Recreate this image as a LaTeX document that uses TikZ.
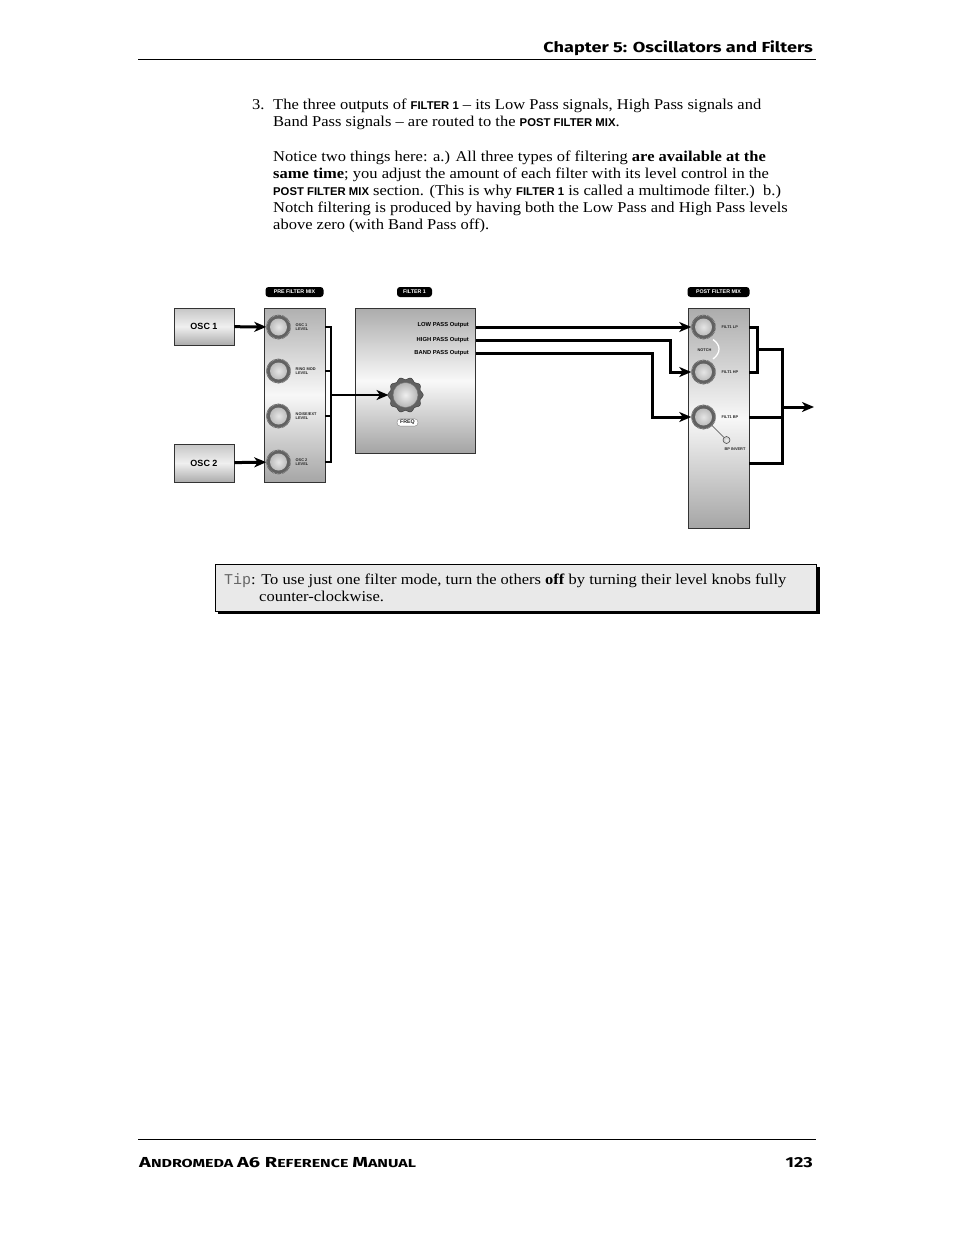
\documentclass[tikz,border=0pt]{standalone}
\usepackage{fontspec}
\setmainfont{Liberation Serif}[FakeStretch=1.1]
\newfontfamily\arialf{Liberation Sans}
\newfontfamily\headf{Fira Sans}[FakeStretch=1.25]
\newfontfamily\footf{Fira Sans}[FakeStretch=1.38]
\newfontfamily\monof{Liberation Mono}
\usetikzlibrary{arrows.meta,calc}
\newcommand\sfcap[1]{{\arialf\bfseries\fontsize{11.3}{11}\selectfont #1}}
\newcommand\bodyf{\fontsize{15}{17}\selectfont}
\newcommand\tagf{\arialf\bfseries\fontsize{5.3}{6}\selectfont}
\newcommand\tinyf{\arialf\bfseries\fontsize{3.9}{4.3}\selectfont}
\newcommand\outf{\arialf\bfseries\fontsize{5.8}{6.5}\selectfont}
\newcommand\oscf{\arialf\bfseries\fontsize{9}{10}\selectfont}
\newcommand\bigc{\fontsize{14.5}{16}\selectfont}
\newcommand\smlc{\fontsize{11.6}{13}\selectfont}
\begin{document}
\begin{tikzpicture}[x=1pt,y=-1pt,
  panel/.style={draw=black!80, line width=0.7pt, inner sep=0pt},
  tag/.style={fill=black, rounded corners=3pt, text=white, font=\tagf, inner xsep=3pt, inner ysep=0pt, minimum height=10pt},
  knob/.style={circle, minimum size=24pt, inner sep=0pt, fill=black!62, draw=black!85, line width=0.5pt,
    path picture={\shade[inner color=gray!20, outer color=gray!65] (path picture bounding box.center) circle (8.5pt);},
    postaction={draw=black!35, line width=1.1pt, dash pattern=on 0.7pt off 0.7pt}},
  klabel/.style={font=\tinyf, align=left, anchor=west, inner sep=0pt, text=black!85},
  wire/.style={line width=3pt, black},
  bwire/.style={line width=2.3pt, black},
  arr/.style={-{Stealth[length=12pt,width=10pt,inset=3.5pt]}},
  hdr/.style={inner sep=0pt}
]
\useasboundingbox (0,0) rectangle (954,1235);
\fill[white] (0,0) rectangle (954,1235);

% header and footer
\node[hdr, anchor=base east, font=\headf\bfseries\fontsize{14.5}{16}\selectfont] (head) at (813,52) {Chapter 5: Oscillators and Filters};
\draw[line width=0.8pt] (138,59.5) -- (816,59.5);
\draw[line width=0.8pt] (138,1139.5) -- (816,1139.5);
\node[hdr, anchor=base west, font=\footf\bfseries] (foot) at (139,1167) {\bigc A\smlc NDROMEDA \bigc A6 R\smlc EFERENCE \bigc M\smlc ANUAL};
\node[hdr, anchor=base east, font=\headf\bfseries\fontsize{14.5}{16}\selectfont] (pnum) at (813,1167) {123};

% body text (base anchor = last line)
\node[anchor=base west, inner sep=0pt, font=\bodyf] (num) at (252,109) {3.};
\node[anchor=base west, inner sep=0pt, font=\bodyf, align=left] (p1) at (273,126)
  {The three outputs of \sfcap{FILTER 1} – its Low Pass signals, High Pass signals and\\
   Band Pass signals – are routed to the \sfcap{POST FILTER MIX}.};
\node[anchor=base west, inner sep=0pt, font=\bodyf, align=left] (p2) at (273,229)
  {Notice two things here: a.) All three types of filtering \textbf{are available at the}\\
   \textbf{same time}; you adjust the amount of each filter with its level control in the\\
   \sfcap{POST FILTER MIX} section. (This is why \sfcap{FILTER 1} is called a multimode filter.)\ \ b.)\\
   Notch filtering is produced by having both the Low Pass and High Pass levels\\
   above zero (with Band Pass off).};

% ---------- diagram ----------
% OSC boxes
\node[panel, top color=gray!45, bottom color=gray!65, middle color=gray!12, minimum width=60pt, minimum height=37pt, font=\oscf] (osc1) at (204,326.5) {OSC 1};
\node[panel, top color=gray!45, bottom color=gray!65, middle color=gray!12, minimum width=60pt, minimum height=38pt, font=\oscf] (osc2) at (204,463) {OSC 2};

% PRE FILTER MIX
\node[tag, minimum width=58pt] (tpre) at (294.5,292) {PRE FILTER MIX};
\node[panel, top color=gray!62, bottom color=gray!70, middle color=gray!6, minimum width=61pt, minimum height=174pt] (pre) at (294.5,395) {};
\node[knob] (k1) at (278.5,327) {};
\node[knob] (k2) at (278.5,371) {};
\node[knob] (k3) at (278.5,416) {};
\node[knob] (k4) at (278.5,462) {};
\node[klabel] (l1) at (295.5,327) {OSC 1\\LEVEL};
\node[klabel] (l2) at (295.5,371) {RING MOD\\LEVEL};
\node[klabel] (l3) at (295.5,416) {NOISE/EXT\\LEVEL};
\node[klabel] (l4) at (295.5,462) {OSC 2\\LEVEL};

\draw[wire,arr] (osc1) -- (k1);
\draw[wire,arr] (osc2) -- (k4);

% FILTER 1
\node[tag, minimum width=35pt] (tf1) at (414.5,292) {FILTER 1};
\node[panel, top color=gray!65, bottom color=gray!72, middle color=gray!5, minimum width=120pt, minimum height=145pt] (f1) at (415.5,381) {};
\node[anchor=east, font=\outf, inner sep=0pt] (lpt) at (469,325) {LOW PASS Output};
\node[anchor=east, font=\outf, inner sep=0pt] (hpt) at (469,340) {HIGH PASS Output};
\node[anchor=east, font=\outf, inner sep=0pt] (bpt) at (469,353) {BAND PASS Output};
\fill[black!62, draw=black!80, line width=0.4pt] plot[domain=0:360, samples=241] ({405.5+(16.6+1.1*cos(10*\x))*cos(\x)}, {395+(16.6+1.1*cos(10*\x))*sin(\x)}) -- cycle;
\node[circle, minimum size=25pt, inner sep=0pt, outer sep=4.5pt, inner color=gray!12, outer color=gray!58, draw=black!55, line width=0.4pt] (fq) at (405.5,395) {};
\node[draw=black!50, fill=white, rounded corners=3pt, font=\tagf, text=black!85, inner xsep=3pt, inner ysep=1.2pt] (freq) at (407.5,422.5) {FREQ};

% pre-mix bus to FREQ
\coordinate (bx) at (331,395);
\draw[bwire] (pre.east |- k1) -- (bx |- k1) -- (bx |- k4) -- (pre.east |- k4);
\draw[bwire] (pre.east |- k2) -- (bx |- k2);
\draw[bwire] (pre.east |- k3) -- (bx |- k3);
\draw[bwire,arr] (bx) -- (fq);

% POST FILTER MIX
\node[tag, minimum width=62pt] (tpost) at (718.5,292) {POST FILTER MIX};
\node[panel, top color=gray!65, bottom color=gray!70, middle color=gray!6, minimum width=61pt, minimum height=220pt] (post) at (718.5,418) {};
\node[knob] (pk1) at (703.5,327) {};
\node[knob] (pk2) at (703.5,372) {};
\node[knob] (pk3) at (703.5,417) {};
\node[klabel] (pl1) at (721.5,327) {FILT1 LP};
\node[klabel] (pl2) at (721.5,372) {FILT1 HP};
\node[klabel] (pl3) at (721.5,417) {FILT1 BP};
\node[font=\tinyf, inner sep=0pt, text=black!85] (notch) at (704.5,350) {NOTCH};
\draw[white, line width=1.3pt] (713,339.5) .. controls (721,345) and (721,353) .. (713,359);
\node[circle, minimum size=7pt, inner sep=0pt, draw=black!75, line width=0.5pt, inner color=gray!10, outer color=gray!45] (bpi) at (726.5,440) {};
\draw[black!75, line width=0.6pt] (pk3) -- (bpi);
\node[font=\tinyf, inner sep=0pt, text=black!85] (bpit) at (735,449) {BP INVERT};

% filter outputs to post mix
\coordinate (hpc) at (670,340);
\coordinate (bpc) at (652.5,353);
\draw[wire,arr] (f1.east |- pk1) -- (pk1);
\draw[wire,arr] (f1.east |- hpt) -| (hpc |- pk2) -- (pk2);
\draw[wire,arr] (f1.east |- bpt) -| (bpc |- pk3) -- (pk3);

% post mix output bus
\coordinate (ox1) at (757,349.5);
\coordinate (ox2) at (782.5,349.5);
\coordinate (pbot) at (749,463);
\coordinate (out) at (814,407);
\draw[wire] (post.east |- pk1) -- (ox1 |- pk1) -- (ox1 |- pk2) -- (post.east |- pk2);
\draw[wire] (ox1) -- (ox2) -- (ox2 |- pbot) -- (pbot);
\draw[wire] (post.east |- pk3) -- (ox2 |- pk3);
\draw[wire,arr] (ox2 |- out) -- (out);

% Tip box
\fill[black] (217.5,566.5) rectangle (819.5,614);
\draw[fill=gray!17, line width=0.8pt] (215.5,564.5) rectangle (816.5,611.5);
\node[anchor=base west, inner sep=0pt, font=\bodyf, align=left] (tip) at (224,601.5)
  {{\monof\fontsize{15}{17}\selectfont\color{black!60}Tip}: To use just one filter mode, turn the others \textbf{off} by turning their level knobs fully\\
   \hspace*{35pt}counter-clockwise.};
\end{tikzpicture}
\end{document}
